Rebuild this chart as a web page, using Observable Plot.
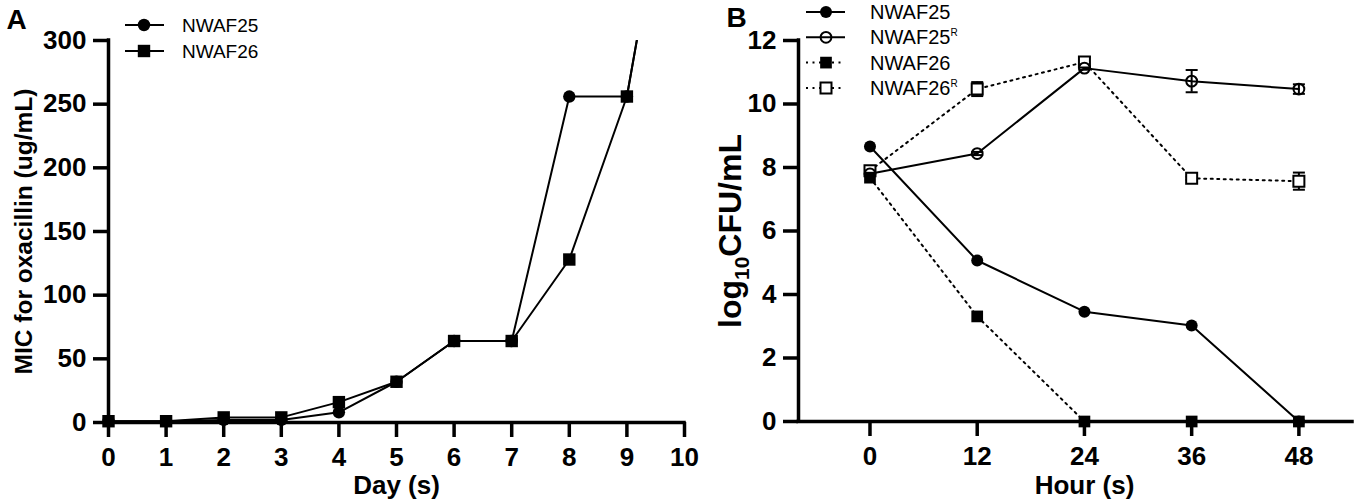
<!DOCTYPE html>
<html><head><meta charset="utf-8">
<script src="https://cdn.jsdelivr.net/npm/d3@7"></script>
<script src="https://cdn.jsdelivr.net/npm/@observablehq/plot@0.6"></script>
<style>
body{margin:0;background:#fff;}
#wrap{display:flex;width:1356px;height:504px;overflow:hidden;}
#wrap svg{max-width:none !important;}
</style></head><body><div id="wrap"></div>
<script>
// ---- Panel A data ----
const days = [0,1,2,3,4,5,6,7,8,9,10];
const micNWAF25 = [1,1,2,2,8,32,64,64,256,256,512];
const micNWAF26 = [1,1,4,4,16,32,64,64,128,256,512];
const dayTicks = [0,1,2,3,4,5,6,7,8,9,10];
const micTicks = [0,50,100,150,200,250,300];
const micDomain = [0,300];
const dayDomain = [0,10];
const xLabelA = "Day (s)";
const yLabelA = "MIC for oxacillin (ug/mL)";

// ---- Panel B data ----
const hours = [0,12,24,36,48];
const cfuNWAF25  = [8.66,5.07,3.46,3.02,0];
const cfuNWAF25R = [7.8,8.44,11.13,10.72,10.47];
const errNWAF25R = [0,0.05,0.05,0.35,0.15];
const cfuNWAF26  = [7.68,3.31,0,0,0];
const cfuNWAF26R = [7.9,10.47,11.32,7.66,7.57];
const errNWAF26R = [0.05,0.22,0.15,0.05,0.27];
const hourTicks = [0,12,24,36,48];
const cfuTicks = [0,2,4,6,8,10,12];
const hourDomain = [-8,54];
const cfuDomain = [0,12];
const xLabelB = "Hour (s)";
const yLabelB = "log10CFU/mL";

const font = "'Liberation Sans', Arial, Helvetica, sans-serif";
const toRows = (xs, ys, es) => xs.map((x,i)=>({x, y: ys[i], e: es ? es[i] : 0}));

const a25 = toRows(days, micNWAF25);
const a26 = toRows(days, micNWAF26);

const capSymbol = {draw(ctx, size){ const w = Math.sqrt(size/Math.PI); ctx.moveTo(-w,0); ctx.lineTo(w,0); }};

const axisStyle = {fontSize:26, fontWeight:"bold"};
const titleStyle = {textAnchor:"middle", lineAnchor:"middle", fontWeight:"bold"};

const A = Plot.plot({
  width:700, height:504, marginLeft:108, marginRight:16, marginTop:40, marginBottom:82,
  style:{fontFamily:font, fontSize:"26px", fontWeight:"bold", color:"#000", background:"#fff", overflow:"visible"},
  x:{domain:dayDomain}, y:{domain:micDomain},
  marks:[
    Plot.axisX({ticks:dayTicks, tickSize:15, tickPadding:10, strokeWidth:3.5, label:null, ...axisStyle}),
    Plot.axisY({ticks:micTicks, tickSize:15, tickPadding:7, strokeWidth:3.5, label:null, ...axisStyle}),
    Plot.ruleY([micDomain[0]], {strokeWidth:3.5, strokeLinecap:"square"}),
    Plot.ruleX([dayDomain[0]], {strokeWidth:3.5, strokeLinecap:"square"}),
    Plot.line(a26, {x:"x", y:"y", stroke:"black", strokeWidth:2, clip:true}),
    Plot.line(a25, {x:"x", y:"y", stroke:"black", strokeWidth:2, clip:true}),
    Plot.dot(a26.filter(d=>d.y<=micDomain[1]), {x:"x", y:"y", symbol:"square", r:7, fill:"black"}),
    Plot.dot(a25.filter(d=>d.y<=micDomain[1]), {x:"x", y:"y", symbol:"circle", r:6.2, fill:"black"}),
    Plot.text([xLabelA], {frameAnchor:"bottom", dy:63, fontSize:26, ...titleStyle}),
    Plot.text([yLabelA], {frameAnchor:"left", dx:-84, rotate:-90, fontSize:24.5, ...titleStyle}),
    Plot.text(["A"], {frameAnchor:"top-left", textAnchor:"start", lineAnchor:"top", dx:-102, dy:-31, fontSize:28, fontWeight:"bold"})
  ]
});

const b25 = toRows(hours, cfuNWAF25);
const b25R = toRows(hours, cfuNWAF25R, errNWAF25R);
const b26 = toRows(hours, cfuNWAF26);
const b26R = toRows(hours, cfuNWAF26R, errNWAF26R);
const errRows = [...b25R, ...b26R].filter(d=>d.e>0);
const capRows = errRows.flatMap(d=>[{x:d.x, y:d.y-d.e},{x:d.x, y:d.y+d.e}]);
const dotted = "2,4.5";

const B = Plot.plot({
  width:656, height:504, marginLeft:98, marginRight:4, marginTop:40, marginBottom:83,
  style:{fontFamily:font, fontSize:"26px", fontWeight:"bold", color:"#000", background:"#fff", overflow:"visible"},
  x:{domain:hourDomain}, y:{domain:cfuDomain},
  marks:[
    Plot.axisX({ticks:hourTicks, tickSize:15, tickPadding:10, strokeWidth:3.5, label:null, ...axisStyle}),
    Plot.axisY({ticks:cfuTicks, tickSize:15, tickPadding:7, strokeWidth:3.5, label:null, ...axisStyle}),
    Plot.ruleY([cfuDomain[0]], {strokeWidth:3.5, strokeLinecap:"square"}),
    Plot.ruleX([hourDomain[0]], {strokeWidth:3.5, strokeLinecap:"square"}),
    Plot.line(b26R, {x:"x", y:"y", stroke:"black", strokeWidth:2, strokeDasharray:dotted}),
    Plot.line(b26, {x:"x", y:"y", stroke:"black", strokeWidth:2, strokeDasharray:dotted}),
    Plot.line(b25R, {x:"x", y:"y", stroke:"black", strokeWidth:2}),
    Plot.line(b25, {x:"x", y:"y", stroke:"black", strokeWidth:2}),
    Plot.ruleX(errRows, {x:"x", y1:d=>d.y-d.e, y2:d=>d.y+d.e, stroke:"black", strokeWidth:2}),
    Plot.dot(capRows, {x:"x", y:"y", symbol:capSymbol, r:6, stroke:"black", strokeWidth:2, fill:"none"}),
    Plot.dot(b26R, {x:"x", y:"y", symbol:"square", r:6.2, fill:"white", stroke:"black", strokeWidth:2}),
    Plot.dot(b26, {x:"x", y:"y", symbol:"square", r:6.6, fill:"black"}),
    Plot.dot(b25R, {x:"x", y:"y", symbol:"circle", r:5.4, fill:"none", stroke:"black", strokeWidth:2}),
    Plot.dot(b25, {x:"x", y:"y", symbol:"circle", r:6, fill:"black"}),
    Plot.text([xLabelB], {frameAnchor:"bottom", dx:9, dy:64, fontSize:26, ...titleStyle}),
    Plot.text([yLabelB], {frameAnchor:"left", dx:-68, rotate:-90, fontSize:32, ...titleStyle}),
    Plot.text(["B"], {frameAnchor:"top-left", textAnchor:"start", lineAnchor:"top", dx:-72, dy:-33, fontSize:28, fontWeight:"bold"})
  ]
});

// subscript for log10
d3.select(B).selectAll("text").filter(function(){ return this.textContent === yLabelB; }).each(function(){
  const t = d3.select(this); t.text("");
  t.append("tspan").text("log");
  t.append("tspan").attr("font-size", 21).attr("dy", 8).text("10");
  t.append("tspan").attr("dy", -8).text("CFU/mL");
});

function addLegend(svg, items, o){
  const g = d3.select(svg).append("g").attr("font-family", font).attr("font-weight","normal")
    .attr("font-size", o.fontSize).attr("fill","black").attr("text-anchor","start");
  items.forEach((it,i)=>{
    const y = o.y0 + i*o.dy;
    g.append("line").attr("x1",o.x1).attr("x2",o.x2).attr("y1",y).attr("y2",y)
      .attr("stroke","black").attr("stroke-width",2).attr("stroke-dasharray", it.dash || null);
    const sym = it.symbol === "square" ? d3.symbolSquare : d3.symbolCircle;
    g.append("path").attr("transform",`translate(${o.xm},${y})`).attr("d", d3.symbol(sym, Math.PI*it.r*it.r)())
      .attr("fill", it.open ? (it.symbol==="square" ? "white" : "none") : "black")
      .attr("stroke", it.open ? "black" : "none").attr("stroke-width", 2);
    const t = g.append("text").attr("x", o.xt).attr("y", y).attr("dy","0.35em").text(it.name);
    if (it.sup) t.append("tspan").attr("font-size", 10).attr("dy", -8).text(it.sup);
  });
}

addLegend(A, [
  {name:"NWAF25", symbol:"circle", r:6.2},
  {name:"NWAF26", symbol:"square", r:7}
], {x1:125, x2:164, xm:144, xt:182, y0:25, dy:26, fontSize:19});

addLegend(B, [
  {name:"NWAF25", symbol:"circle", r:6},
  {name:"NWAF25", sup:"R", symbol:"circle", r:5.4, open:true},
  {name:"NWAF26", symbol:"square", r:6.6, dash:dotted},
  {name:"NWAF26", sup:"R", symbol:"square", r:6.2, open:true, dash:dotted}
], {x1:106, x2:145, xm:126, xt:170, y0:12, dy:25.3, fontSize:20});

document.getElementById("wrap").append(A, B);
</script></body></html>
